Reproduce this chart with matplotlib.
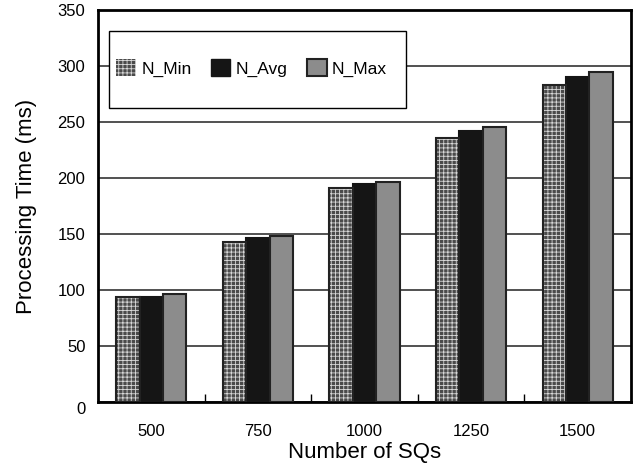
import numpy as np
import matplotlib.pyplot as plt
import matplotlib.transforms as mtransforms
from matplotlib.patches import Patch, Rectangle

plt.rcParams['font.family'] = ['Liberation Sans', 'DejaVu Sans']
plt.rcParams['hatch.linewidth'] = 0.6

# ---- data ----
categories = ['500', '750', '1000', '1250', '1500']
n_min = [94, 143, 191, 236, 283]
n_avg = [94, 146, 194.5, 242, 290]
n_max = [96.5, 148, 196.5, 245.5, 295]
y_ticks = [0, 50, 100, 150, 200, 250, 300, 350]

MIN_FACE = '#4a4a4a'
MIN_HATCH = '#d8d8d8'

fig = plt.figure(figsize=(6.41, 4.63), dpi=100)
ax = fig.add_axes([98/641, 1-402/463, 533/641, 392/463])

x = np.arange(len(categories))
w = 0.22

# N_Min: gray with light dot pattern, then black outline on top
ax.bar(x - w, n_min, w, color=MIN_FACE, edgecolor=MIN_HATCH, hatch='++++', linewidth=0, zorder=3)
ax.bar(x - w, n_min, w, fill=False, edgecolor='#222222', linewidth=1.5, zorder=4)
ax.bar(x, n_avg, w, color='#151515', edgecolor='#151515', linewidth=1.5, zorder=3)
ax.bar(x + w, n_max, w, color='#8c8c8c', edgecolor='#222222', linewidth=1.5, zorder=3)

# legend box drawn by hand, legend entries on top without frame
ax.add_patch(Rectangle((11/533, (402-108)/392), 297/533, 77/392, transform=ax.transAxes,
                       facecolor='white', edgecolor='black', linewidth=1.0, zorder=9))
handles = [Patch(facecolor=MIN_FACE, edgecolor=MIN_HATCH, hatch='++++', linewidth=0),
           Patch(facecolor='#151515', edgecolor='#151515'),
           Patch(facecolor='#8c8c8c', edgecolor='#222222', linewidth=1.5)]
leg = ax.legend(handles, ['N_Min', 'N_Avg', 'N_Max'], ncol=3, loc='center left',
                bbox_to_anchor=(18/533, (402-68)/392), frameon=False,
                fontsize=12.5, handlelength=1.15, handleheight=1.15,
                handletextpad=0.3, columnspacing=1.1, borderpad=0, borderaxespad=0)
leg.set_zorder(10)

ax.set_xlim(-0.5, len(categories) - 0.5)
ax.set_ylim(0, 350)
ax.set_yticks(y_ticks)
ax.set_xticks(x)
ax.set_xticklabels(categories)
ax.set_xticks(np.arange(0.5, len(categories) - 0.5, 1), minor=True)
ax.tick_params(axis='x', which='major', length=0, labelsize=12, pad=16)
ax.tick_params(axis='x', which='minor', direction='in', length=6, width=1)
ax.tick_params(axis='y', length=0, labelsize=12, pad=9)
ax.yaxis.grid(True, color='#333333', linewidth=1.2, zorder=0)
ax.set_axisbelow(True)
for s in ax.spines.values():
    s.set_linewidth(2)

# the "0" label sits a bit below its gridline in the original
zero_lbl = ax.get_yticklabels()[0]
zero_lbl.set_transform(zero_lbl.get_transform() +
                       mtransforms.ScaledTranslation(0, -6/100, fig.dpi_scale_trans))

ax.set_xlabel('Number of SQs', fontsize=16)
ax.xaxis.set_label_coords(0.5, -0.103)
ax.set_ylabel('Processing Time (ms)', fontsize=16, labelpad=15)

fig.savefig('out.png', dpi=100)
